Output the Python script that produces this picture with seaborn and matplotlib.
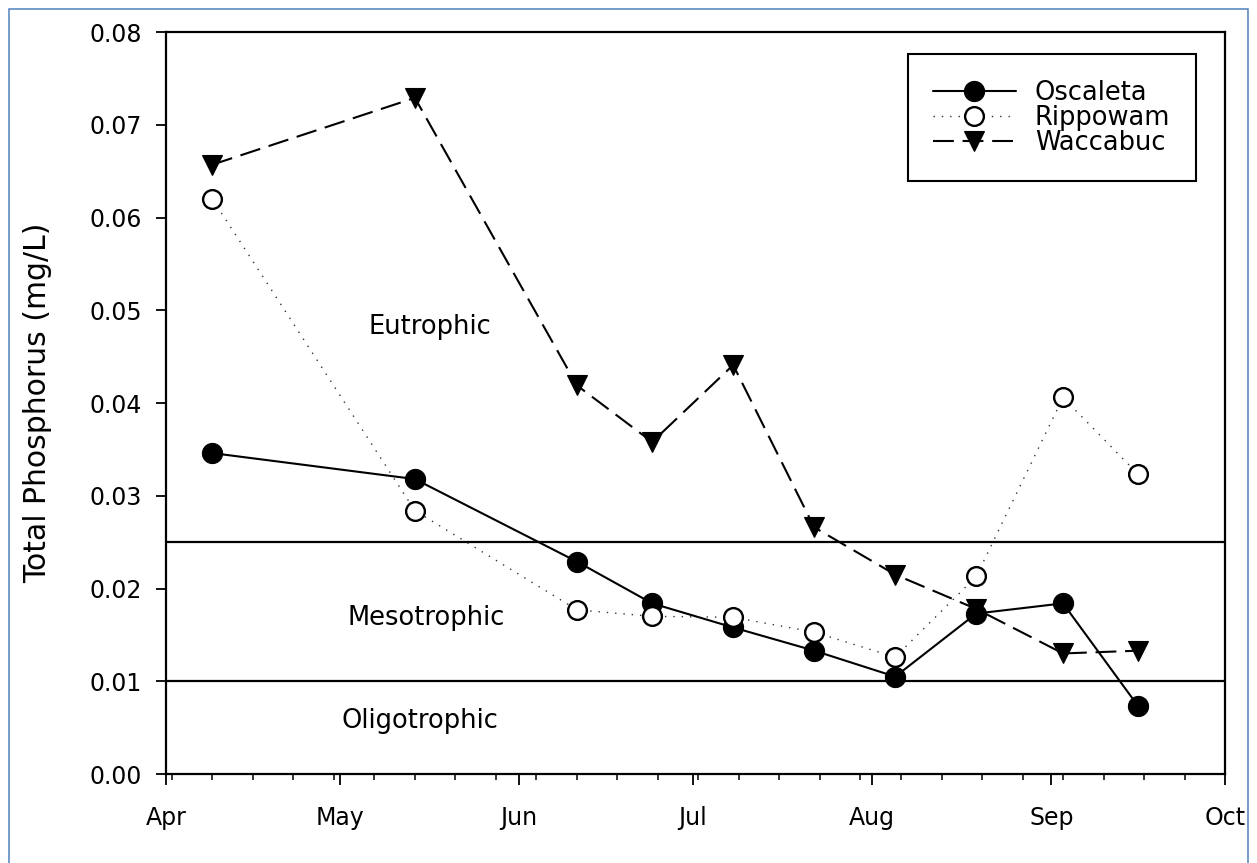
import matplotlib
matplotlib.use("Agg")
import matplotlib.pyplot as plt
import matplotlib.dates as mdates
from matplotlib.patches import Rectangle
from matplotlib.ticker import FixedLocator, FormatStrFormatter
import pandas as pd
import seaborn as sns

# Sampling dates and total phosphorus (mg/L) per lake
dates = ["2017-04-09", "2017-05-14", "2017-06-11", "2017-06-24", "2017-07-08",
         "2017-07-22", "2017-08-05", "2017-08-19", "2017-09-03", "2017-09-16"]
oscaleta = [0.0346, 0.0318, 0.0229, 0.0184, 0.0158, 0.0133, 0.0105, 0.0173, 0.0184, 0.0073]
rippowam = [0.0620, 0.0284, 0.0177, 0.0170, 0.0169, 0.0153, 0.0126, 0.0213, 0.0406, 0.0323]
waccabuc = [0.0657, 0.0729, 0.0419, 0.0358, 0.0441, 0.0266, 0.0215, 0.0178, 0.0130, 0.0133]

# Trophic state boundaries
thresholds = [0.025, 0.010]
zone_labels = ["Eutrophic", "Mesotrophic", "Oligotrophic"]
y_ticks = [0.00, 0.01, 0.02, 0.03, 0.04, 0.05, 0.06, 0.07, 0.08]

df = pd.DataFrame({
    "date": pd.to_datetime(dates),
    "Oscaleta": oscaleta,
    "Rippowam": rippowam,
    "Waccabuc": waccabuc,
})

sns.set_style("ticks")
plt.rcParams["font.family"] = ["DejaVu Sans"]
plt.rcParams["text.color"] = "black"
plt.rcParams["axes.labelcolor"] = "black"
plt.rcParams["xtick.color"] = "black"
plt.rcParams["ytick.color"] = "black"

fig = plt.figure(figsize=(12.57, 8.63), dpi=100)
ax = fig.add_axes([0.1321, 0.1031, 0.9746 - 0.1321, 0.9629 - 0.1031])

h_wac = sns.lineplot(data=df, x="date", y="Waccabuc", ax=ax, color="black",
                     linewidth=1.5, linestyle=(0, (10, 4.2)), marker="v",
                     markersize=14.5, markerfacecolor="black", markeredgecolor="black",
                     markeredgewidth=0.8, zorder=3, label="Waccabuc").lines[-1]
h_osc = sns.lineplot(data=df, x="date", y="Oscaleta", ax=ax, color="black",
                     linewidth=1.5, linestyle="-", marker="o",
                     markersize=14.5, markerfacecolor="black", markeredgecolor="black",
                     markeredgewidth=0.8, zorder=4, label="Oscaleta").lines[-1]
h_rip = sns.lineplot(data=df, x="date", y="Rippowam", ax=ax, color="#333333",
                     linewidth=1.0, linestyle=(0, (1, 5)), marker="o",
                     markersize=13.5, markerfacecolor="white", markeredgecolor="black",
                     markeredgewidth=1.7, zorder=5, label="Rippowam").lines[-1]

for t in thresholds:
    ax.axhline(t, color="black", linewidth=1.6, zorder=2)

ax.set_xlim(pd.Timestamp("2017-04-01"), pd.Timestamp("2017-10-01"))
ax.set_ylim(0, 0.08)
ax.xaxis.set_major_locator(mdates.MonthLocator())
ax.xaxis.set_major_formatter(mdates.DateFormatter("%b"))
ax.xaxis.set_minor_locator(mdates.WeekdayLocator(byweekday=mdates.SU))
ax.yaxis.set_major_locator(FixedLocator(y_ticks))
ax.yaxis.set_major_formatter(FormatStrFormatter("%.2f"))

ax.tick_params(axis="x", which="major", direction="out", length=8, width=1.3,
               labelsize=17, pad=15, colors="black")
ax.tick_params(axis="x", which="minor", direction="out", length=4.5, width=1.1)
ax.tick_params(axis="y", which="major", direction="out", length=7.5, width=1.3,
               labelsize=17, pad=10, colors="black")
ax.tick_params(top=False, right=False, which="both")

for s in ax.spines.values():
    s.set_visible(True)
    s.set_color("black")
    s.set_linewidth(1.6)

ax.set_xlabel("")
ax.set_ylabel("Total Phosphorus (mg/L)", fontsize=21.5, color="black")
ax.yaxis.set_label_coords(-0.108, 0.5)

# Zone labels
zone_pos = [(0.2493, 0.6024), (0.2455, 0.2102), (0.2394, 0.0714)]
for txt, (xf, yf) in zip(zone_labels, zone_pos):
    ax.text(xf, yf, txt, transform=ax.transAxes, ha="center", va="center",
            fontsize=18.5, color="black")

leg = ax.legend(handles=[h_osc, h_rip, h_wac],
                labels=["Oscaleta", "Rippowam", "Waccabuc"],
                loc="upper right", bbox_to_anchor=(0.9726, 0.9704),
                borderaxespad=0, fontsize=18.5, frameon=True, fancybox=False,
                handlelength=3.2, handletextpad=0.75, labelspacing=-0.04,
                borderpad=1.0)
leg.get_frame().set_edgecolor("black")
leg.get_frame().set_linewidth(1.5)
leg.get_frame().set_alpha(1)
for t in leg.get_texts():
    t.set_color("black")

# Outer chart border
fig.patches.append(Rectangle((9 / 1257, -10 / 863), 1239 / 1257, 864 / 863,
                             transform=fig.transFigure, fill=False,
                             edgecolor="#4F81BD", linewidth=1.1))

fig.savefig("out.png", dpi=100)
